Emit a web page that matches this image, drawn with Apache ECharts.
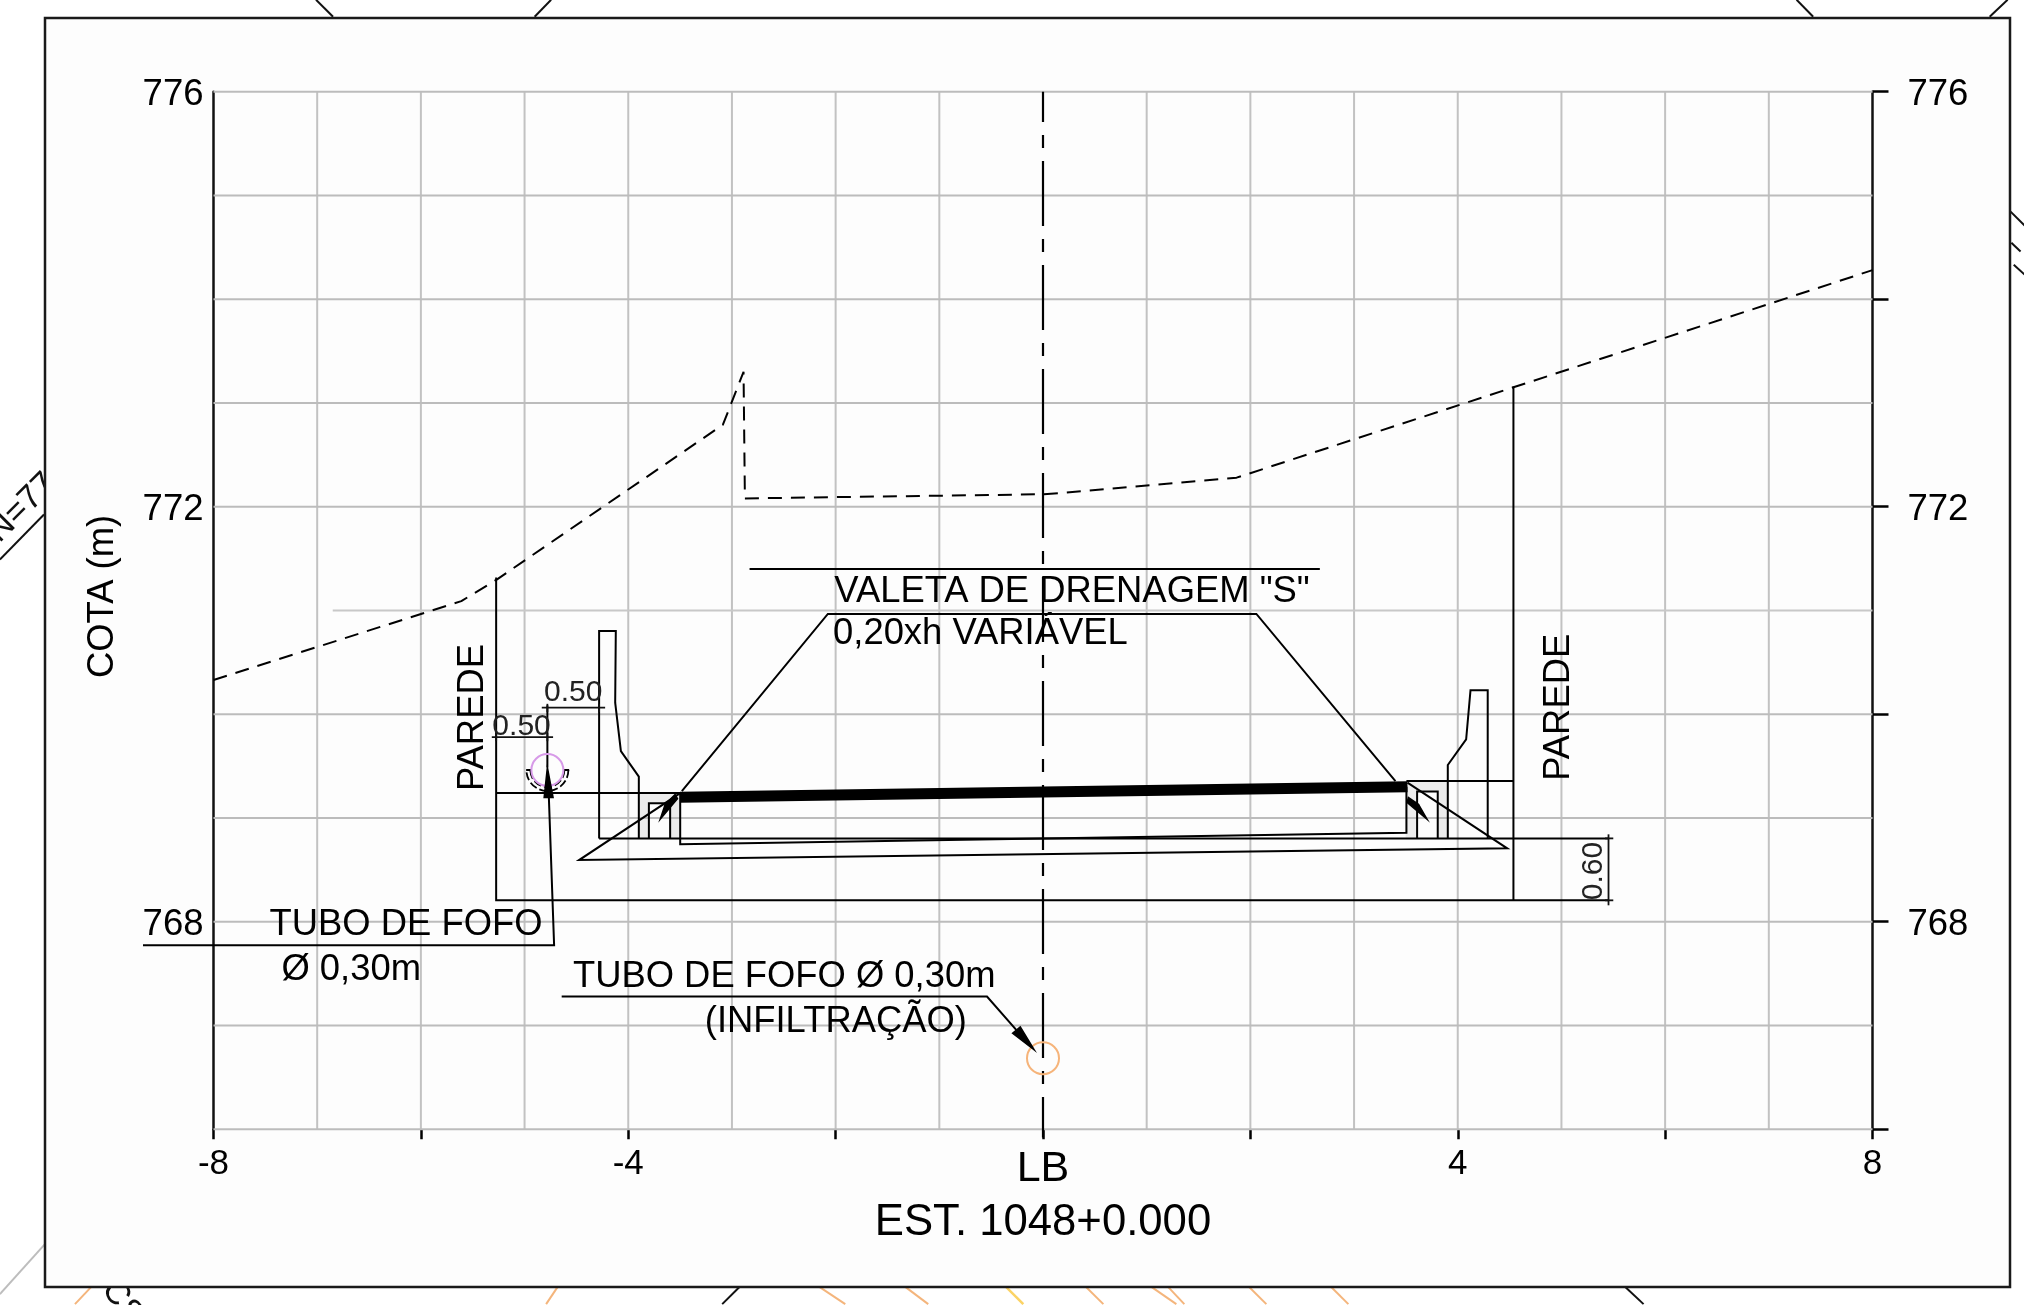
<!DOCTYPE html>
<html><head><meta charset="utf-8">
<script src="https://cdn.jsdelivr.net/npm/echarts@6/dist/echarts.min.js"></script>
<style>html,body{margin:0;padding:0;background:#fff}#c{width:2024px;height:1305px}</style>
</head><body><div id="c"></div>
<script>
// ---- axis values ----
const xTickLabels = [-8, -4, 0, 4, 8];
const xTicks = [-8, -6, -4, -2, 0, 2, 4, 6, 8];
const yTickLabels = [768, 772, 776];
const yTicks = [766, 768, 770, 772, 774, 776];
const verticalGrid = [-7, -6, -5, -4, -3, -2, -1, 1, 2, 3, 4, 5, 6, 7];
const horizontalGrid = [766, 767, 768, 769, 770, 772, 773, 774, 775, 776];
const partialGrid = [[-6.85, 771], [8, 771]];

// ---- section geometry, [station m, elevation m] ----
const groundProfile = [[-8, 770.33], [-5.61, 771.09], [-5.265, 771.30], [-3.087, 772.79], [-2.888, 773.30], [-2.875, 772.08], [0, 772.12], [0.15, 772.13], [1.867, 772.28], [8, 774.28]];
const centerLine = [[0, 776], [0, 765.92]];
const leftWall = [[-5.274, 771.318], [-5.274, 768.206], [5.454, 768.206]];
const rightWall = [[4.537, 773.158], [4.537, 768.206]];
const leftLevel = [[-5.274, 769.24], [-3.499, 769.24]];
const rightLevel = [[3.505, 769.355], [4.537, 769.355]];
const floorLevel = [[-4.281, 768.803], [5.454, 768.803]];
const leftGutter = [[-3.898, 768.803], [-3.898, 769.398], [-4.071, 769.645], [-4.126, 770.111], [-4.12, 770.801], [-4.281, 770.801], [-4.281, 768.803]];
const rightGutter = [[3.904, 768.803], [3.904, 769.51], [4.081, 769.757], [4.123, 770.232], [4.289, 770.232], [4.289, 768.803]];
const leftChannel = [[-3.801, 768.803], [-3.801, 769.141], [-3.596, 769.141], [-3.596, 768.803]];
const rightChannel = [[3.608, 768.803], [3.608, 769.256], [3.807, 769.256], [3.807, 768.803]];
const slabOutline = [[-3.499, 769.24], [-3.499, 768.746], [3.505, 768.858], [3.505, 769.30]];
const fillWedge = [[-3.499, 769.24], [-4.474, 768.594], [4.477, 768.707], [3.515, 769.34]];
const drainTrapezoid = [[-3.483, 769.259], [-2.075, 770.966], [2.058, 770.966], [3.399, 769.355]];
const valetaLeaderTop = [[-2.83, 771.4], [2.67, 771.4]];
const pavementSlab = [[-3.5, 769.2], [0, 769.25], [3.515, 769.3]];
const leftTubeLeader = [[-8.68, 767.773], [-4.715, 767.773], [-4.766, 769.208]];
const infiltrationLeader = [[-4.642, 767.278], [-0.54, 767.278], [-0.256, 766.955]];
const lowerDim = [[-5.316, 769.779], [-4.725, 769.779]];
const lowerDimTickA = [[-5.274, 769.74], [-5.274, 769.82]];
const lowerDimTickB = [[-4.78, 769.74], [-4.78, 769.82]];
const upperDim = [[-4.834, 770.063], [-4.223, 770.063]];
const upperDimTickA = [[-4.78, 770.02], [-4.78, 770.10]];
const upperDimTickB = [[-4.281, 770.02], [-4.281, 770.10]];
const tubeAxis = [[-4.78, 770.085], [-4.78, 769.487]];
const saddleCapA = [[-4.985, 769.462], [-4.937, 769.462]];
const saddleCapB = [[-4.625, 769.462], [-4.57, 769.462]];
const depthDim = [[5.454, 768.842], [5.454, 768.158]];
const depthDimTickA = [[5.42, 768.803], [5.50, 768.803]];
const depthDimTickB = [[5.42, 768.206], [5.50, 768.206]];

// ---- filled shapes ----
const leftBlock = [[-3.898, 769.24], [-3.499, 769.24], [-3.499, 768.803], [-3.898, 768.803]];
const rightBlock = [[3.505, 769.355], [3.904, 769.355], [3.904, 768.803], [3.505, 768.803]];
const leftVoid = [[-3.801, 769.141], [-3.596, 769.141], [-3.596, 768.803], [-3.801, 768.803]];
const rightVoid = [[3.608, 769.256], [3.807, 769.256], [3.807, 768.803], [3.608, 768.803]];
const arrowTube = [[-4.78, 769.487], [-4.811, 769.198], [-4.725, 769.198]];
const arrowSlabLeft = [[-3.692, 768.987], [-3.644, 769.131], [-3.548, 769.227], [-3.525, 769.186]];
const arrowSlabRight = [[3.705, 768.987], [3.621, 769.131], [3.524, 769.198], [3.512, 769.15]];
const arrowInfiltration = [[-0.084, 766.764], [-0.293, 766.925], [-0.219, 766.986]];

// ---- pipes ----
const tubeCenter = [-4.78, 769.462];
const infiltrationCenter = [0, 766.684];

// ---- surrounding drawing, cut off by the sheet frame ----
const sheetLinesBlack = [
  [[-7.011, 776.886], [-6.847, 776.723]], [[-4.744, 776.886], [-4.903, 776.723]],
  [[7.268, 776.886], [7.428, 776.723]], [[9.303, 776.886], [9.13, 776.723]],
  [[9.332, 774.844], [9.467, 774.709]], [[9.339, 774.545], [9.428, 774.459]], [[9.362, 774.333], [9.467, 774.237]],
  [[-10.06, 771.491], [-9.635, 771.925]], [[-2.92, 764.487], [-3.094, 764.314]], [[5.608, 764.487], [5.792, 764.314]]
];
const sheetLinesOrange = [
  [[-9.172, 764.487], [-9.336, 764.314]], [[-4.676, 764.487], [-4.792, 764.314]],
  [[-2.168, 764.487], [-1.907, 764.314]], [[-1.338, 764.487], [-1.107, 764.314]],
  [[0.408, 764.487], [0.582, 764.314]], [[1.035, 764.487], [1.286, 764.314]],
  [[1.199, 764.487], [1.363, 764.314]], [[1.981, 764.487], [2.154, 764.314]], [[2.772, 764.487], [2.945, 764.314]]
];
const sheetLinesYellow = [[[-0.364, 764.487], [-0.19, 764.314]]];
const sheetLinesGrey = [[[-9.626, 764.892], [-10.06, 764.41]]];

// ---- texts ----
const annotationTexts = ['COTA (m)', 'TUBO DE FOFO', 'Ø 0,30m', 'TUBO DE FOFO Ø 0,30m', '(INFILTRAÇÃO)', 'VALETA DE DRENAGEM "S"', '0,20xh VARIÁVEL', 'PAREDE', 'PAREDE'];
const annotationAnchors = [[-9.07, 771.135], [-6.143, 767.965], [-6.672, 767.53], [-2.496, 767.468], [-1.998, 767.032], [0.28, 771.174], [-0.604, 770.776], [-5.501, 769.968], [4.979, 770.067]];
const dimensionTexts = ['0.50', '0.50', '0.60'];
const dimensionAnchors = [[-4.531, 770.204], [-5.029, 769.88], [5.315, 768.488]];
const sheetTexts = ['N=77', 'CS'];
const sheetAnchors = [[-9.848, 771.99], [-8.88, 764.33]];
const xAxisTitle = 'EST. 1048+0.000';
const centerLabel = 'LB';

const FONT = '"Liberation Sans", Arial, sans-serif';
const series = [];
function addLine(pts, color, width, z, extra) {
  series.push(Object.assign({
    type: 'line', data: pts, clip: false, symbol: 'none', silent: true, z: z, animation: false,
    lineStyle: { color: color, width: width, cap: 'butt', join: 'miter' }
  }, extra || {}));
}
// polylines that may run outside the axis range
function addFreeLines(list, color, width, z) {
  series.push({
    type: 'custom', coordinateSystem: 'cartesian2d', clip: false, silent: true, z: z, animation: false,
    data: list.map((_, i) => [i, 0]),
    encode: { x: 0, y: 1 },
    renderItem: (params, api) => ({
      type: 'polyline',
      shape: { points: list[params.dataIndex].map(p => api.coord(p)) },
      style: { fill: null, stroke: color, lineWidth: width }
    })
  });
}
// grid
verticalGrid.forEach(v => addLine([[v, 766], [v, 776]], '#c2c2c2', 2, 3));
horizontalGrid.forEach(v => addLine([[-8, v], [8, v]], '#bcbcbc', 2, 3));
addLine(partialGrid, '#c8c8c8', 2, 3);
// sheet bits outside the frame
addFreeLines(sheetLinesBlack, '#111', 2, 0);
addFreeLines(sheetLinesOrange, '#f4b57c', 2, 0);
addFreeLines(sheetLinesYellow, '#fbd365', 2.5, 0);
addFreeLines(sheetLinesGrey, '#bdbdbd', 2, 0);
// section lines
addLine(groundProfile, '#000', 2, 4, { lineStyle: { color: '#000', width: 2, type: [14, 9] } });
addLine(centerLine, '#000', 2.2, 4, { lineStyle: { color: '#000', width: 2.2, type: [65, 13, 13, 13], dashOffset: 34.7 } });
[leftWall, rightWall, leftLevel, rightLevel, floorLevel, leftGutter, rightGutter, leftChannel, rightChannel,
 slabOutline, fillWedge, drainTrapezoid, valetaLeaderTop, infiltrationLeader, tubeAxis,
 saddleCapA, saddleCapB].forEach(p => addLine(p, '#000', 2, 4));
addFreeLines([leftTubeLeader], '#000', 2, 4);
[lowerDim, lowerDimTickA, lowerDimTickB, upperDim, upperDimTickA, upperDimTickB, depthDim, depthDimTickA, depthDimTickB]
  .forEach(p => addLine(p, '#111', 1.8, 4));
addLine(pavementSlab, '#000', 11, 5);

// filled polygons
function polySeries(list, fill, z) {
  series.push({
    type: 'custom', coordinateSystem: 'cartesian2d', clip: false, silent: true, z: z, animation: false,
    data: list.map((_, i) => [i, 0]),
    encode: { x: 0, y: 1 },
    renderItem: (params, api) => ({
      type: 'polygon',
      shape: { points: list[params.dataIndex].map(p => api.coord(p)) },
      style: { fill: fill, stroke: fill, lineWidth: 1.5 }
    })
  });
}
polySeries([leftBlock, rightBlock], '#ececec', 2);
polySeries([leftVoid, rightVoid], '#fdfdfd', 2.5);
polySeries([arrowTube, arrowSlabLeft, arrowSlabRight, arrowInfiltration], '#000', 6);

// saddle arcs below the pipe
series.push({
  type: 'custom', coordinateSystem: 'cartesian2d', clip: false, silent: true, z: 4, animation: false,
  data: [tubeCenter],
  renderItem: (params, api) => {
    const c = api.coord([api.value(0), api.value(1)]);
    return {
      type: 'group', children: [21, 17].map(r => ({
        type: 'arc',
        shape: { cx: c[0], cy: c[1], r: r, startAngle: 0, endAngle: Math.PI, clockwise: true },
        style: { fill: null, stroke: '#000', lineWidth: 1.8, lineDash: [8, 3] }
      }))
    };
  }
});
// pipes
series.push({
  type: 'scatter', clip: false, silent: true, z: 4, animation: false, symbol: 'circle', symbolSize: 32,
  data: [tubeCenter], itemStyle: { opacity: 1, color: 'rgba(0,0,0,0)', borderColor: '#d79ae8', borderWidth: 2 }
});
series.push({
  type: 'scatter', clip: false, silent: true, z: 4, animation: false, symbol: 'circle', symbolSize: 32,
  data: [infiltrationCenter], itemStyle: { opacity: 1, color: 'rgba(0,0,0,0)', borderColor: '#f6b47a', borderWidth: 2 }
});
// texts
const rotations = { 0: 90, 7: 90, 8: 90 };
function textSeries(texts, anchors, size, color, z, rot) {
  series.push({
    type: 'scatter', clip: false, silent: true, z: z, animation: false, symbol: 'circle', symbolSize: 0,
    itemStyle: { opacity: 1 },
    data: anchors.map((a, i) => ({
      value: a,
      label: {
        show: true, position: 'inside', formatter: () => texts[i], color: color, opacity: 1,
        fontFamily: FONT, fontSize: size, align: 'center', verticalAlign: 'middle',
        rotate: rot[i] || 0
      }
    }))
  });
}
textSeries(annotationTexts, annotationAnchors, 36.4, '#000', 7, rotations);
textSeries(dimensionTexts, dimensionAnchors, 30, '#222', 7, { 2: 90 });
textSeries(sheetTexts, sheetAnchors, 34, '#111', 0, { 0: 45, 1: -55 });

const yAxisBase = {
  type: 'value', min: 766, max: 776, interval: 1, z: 3,
  splitLine: { show: false },
  axisLine: { show: true, onZero: false, lineStyle: { color: '#111', width: 2.5 } }
};
const chart = echarts.init(document.getElementById('c'), null, { renderer: 'canvas' });
chart.setOption({
  animation: false,
  backgroundColor: '#fff',
  graphic: [{
    type: 'rect', z: 1, silent: true,
    shape: { x: 45, y: 18, width: 1965, height: 1269 },
    style: { fill: '#fdfdfd', stroke: '#1a1a1a', lineWidth: 2.5 }
  }],
  grid: { left: 213.5, top: 91.7, width: 1659, height: 1037.5 },
  xAxis: {
    type: 'value', min: -8, max: 8, interval: 1, z: 3,
    name: xAxisTitle, nameLocation: 'middle', nameGap: 72,
    nameTextStyle: { fontFamily: FONT, fontSize: 43.7, color: '#000' },
    splitLine: { show: false },
    axisLine: { show: false, onZero: false },
    axisTick: { show: true, customValues: xTicks, length: 10, lineStyle: { color: '#000', width: 2.5 } },
    axisLabel: {
      customValues: xTickLabels, margin: 18, fontFamily: FONT, fontSize: 35, color: '#000',
      formatter: v => v === 0 ? '{lb|' + centerLabel + '}' : String(v),
      rich: { lb: { fontFamily: FONT, fontSize: 43, color: '#000' } }
    }
  },
  yAxis: [
    Object.assign({}, yAxisBase, {
      position: 'left',
      axisTick: { show: false },
      axisLabel: { customValues: yTickLabels, margin: 10, fontFamily: FONT, fontSize: 36.5, color: '#000', verticalAlign: 'top', lineHeight: 6 }
    }),
    Object.assign({}, yAxisBase, {
      position: 'right',
      axisTick: { show: true, customValues: yTicks, length: 16, lineStyle: { color: '#000', width: 2.5 } },
      axisLabel: { customValues: yTickLabels, margin: 35, fontFamily: FONT, fontSize: 36.5, color: '#000', verticalAlign: 'top', lineHeight: 6 }
    })
  ],
  series: series
});
</script></body></html>
